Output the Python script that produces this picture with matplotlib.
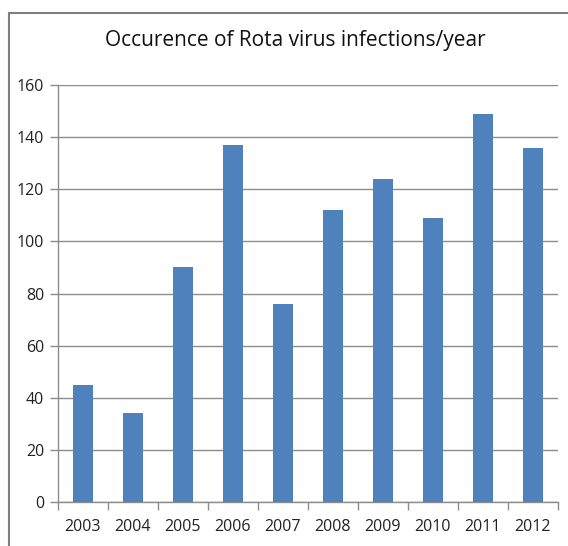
import matplotlib.pyplot as plt
import numpy as np
from matplotlib.patches import Rectangle

plt.rcParams['font.family'] = ['Open Sans', 'DejaVu Sans']

# Rota virus infection counts per year
years = ['2003', '2004', '2005', '2006', '2007', '2008', '2009', '2010', '2011', '2012']
cases = [45, 34, 90, 137, 76, 112, 124, 109, 149, 136]

bar_color = '#4F81BD'
line_color = '#8C8C8C'

fig = plt.figure(figsize=(5.68, 5.46), dpi=100)
ax = fig.add_axes([0.102, 0.0806, 0.880, 0.7637])

x = np.arange(len(years))
ax.bar(x, cases, width=0.4, color=bar_color, zorder=3)

ax.set_xlim(-0.5, len(years) - 0.5)
ax.set_ylim(0, 160)
ax.set_yticks(range(0, 161, 20))
ax.yaxis.grid(True, color=line_color, linewidth=1.0, zorder=0)

ax.set_xticks(x)
ax.set_xticklabels(years)
ax.set_xticks(np.arange(-0.5, len(years)), minor=True)
ax.tick_params(axis='x', which='major', length=0, pad=12, labelsize=11.5, colors='#222222')
ax.tick_params(axis='x', which='minor', length=6, width=1.0, color=line_color, direction='out')
ax.tick_params(axis='y', length=6, width=1.0, color=line_color, labelsize=11.5,
               labelcolor='#222222', pad=4)

for side in ['top', 'right']:
    ax.spines[side].set_visible(False)
for side in ['left', 'bottom']:
    ax.spines[side].set_color(line_color)
    ax.spines[side].set_linewidth(1.0)

fig.text(0.52, 0.926, 'Occurence of Rota virus infections/year', ha='center', va='center',
         fontsize=15, color='#111111')

# outer chart frame
fig.patches.append(Rectangle((9 / 568, -0.05), 1.1, (546 - 12.5) / 546 + 0.05,
                             transform=fig.transFigure, fill=False,
                             edgecolor='#7F7F7F', linewidth=1.5))

fig.savefig('out.png', dpi=100)
